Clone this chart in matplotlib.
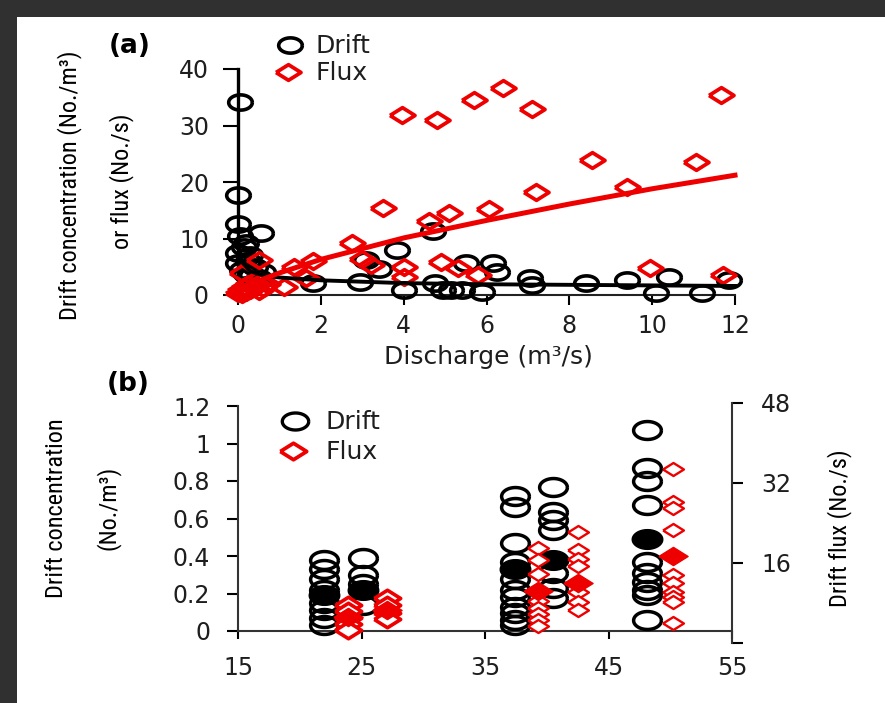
import numpy as np
import matplotlib
matplotlib.use("Agg")
import matplotlib.pyplot as plt
from matplotlib.path import Path
from matplotlib.lines import Line2D
from matplotlib.patches import Rectangle
from matplotlib import font_manager

# ---- panel (a): discharge vs drift concentration / flux ----
drift_q = [0.05, 0.0, 0.0, 0.55, 0.2, 0.0, 0.0, 0.3, 0.15, 0.4, 0.1, 0.6, 0.25, 0.35,
           0.5, 0.05, 0.2, 1.8, 2.95, 3.1, 3.4, 3.85, 4.0, 4.7, 4.75, 4.95, 5.15, 5.4,
           5.5, 5.9, 6.15, 6.25, 7.05, 7.1, 8.4, 9.4, 10.1, 10.4, 11.2, 11.85]
drift_c = [34.2, 17.7, 12.6, 11.0, 9.2, 7.4, 5.7, 7.0, 8.5, 5.0, 4.5, 4.0, 6.0, 3.5,
           3.0, 10.5, 3.8, 2.1, 2.3, 6.2, 4.6, 7.9, 0.9, 11.3, 2.1, 0.9, 0.9, 0.9,
           5.7, 0.5, 5.7, 4.1, 3.0, 1.8, 2.1, 2.7, 0.4, 3.2, 0.4, 2.7]

flux_q = [0.0, 0.05, 0.1, 0.15, 0.2, 0.25, 0.3, 0.4, 0.5, 0.55, 0.6, 0.7, 0.1, 0.5,
          1.1, 1.35, 1.65, 1.8, 2.75, 3.0, 3.2, 3.5, 3.95, 4.0, 4.0, 4.6, 4.8, 4.9,
          5.1, 5.3, 5.7, 5.8, 6.05, 6.4, 7.1, 7.2, 8.55, 9.4, 9.95, 11.05, 11.65, 11.7]
flux_f = [0.3, 0.9, 0.2, 1.4, 0.6, 1.9, 0.9, 1.6, 0.7, 2.3, 1.2, 1.9, 3.9, 6.2,
          1.4, 5.0, 3.0, 6.0, 9.2, 6.3, 5.3, 15.4, 31.9, 4.9, 3.2, 13.1, 31.0, 5.8,
          14.5, 4.8, 34.5, 3.5, 15.3, 36.7, 32.9, 18.3, 23.9, 19.1, 4.8, 23.5, 35.4, 3.5]

# fitted curves
fit_q = [0.02, 0.1, 0.3, 0.6, 1, 2, 4, 6, 8, 10, 12]
drift_fit = [9.0, 5.8, 4.2, 3.5, 3.1, 2.6, 2.1, 1.9, 1.8, 1.7, 1.6]
flux_fit = [0.3, 0.8, 1.7, 2.8, 3.9, 6.3, 10.1, 13.2, 16.1, 18.8, 21.2]

# ---- panel (b): grouped drift (left axis) and flux (right axis) ----
drift_cols = [22.0, 25.1, 37.4, 40.5, 48.1]
drift_vals = [[0.38, 0.33, 0.28, 0.22, 0.15, 0.11, 0.07, 0.03],
              [0.39, 0.30, 0.25, 0.14],
              [0.72, 0.66, 0.47, 0.37, 0.28, 0.22, 0.18, 0.13, 0.095, 0.06, 0.03],
              [0.77, 0.635, 0.59, 0.54, 0.31, 0.23, 0.175],
              [1.07, 0.87, 0.80, 0.67, 0.37, 0.31, 0.26, 0.22, 0.19, 0.06]]
drift_means = [0.19, 0.22, 0.33, 0.38, 0.49]

flux_cols = [23.9, 27.1, 39.3, 42.5, 50.2]
flux_vals = [[7.6, 6.4, 5.0, 3.8, 2.6],
             [9.0, 7.6, 6.0, 4.8],
             [19.1, 16.6, 13.8, 8.4, 7.0, 5.8, 4.6, 3.4],
             [22.2, 18.6, 16.8, 15.4, 10.2, 8.2, 6.6],
             [34.8, 28.2, 27.0, 22.6, 13.6, 12.0, 10.2, 9.2, 8.2, 4.0]]
flux_means = [5.2, 6.6, 10.4, 12.1, 17.4]

RED = "#ee0000"
TXT = "#1e1e1e"
W, H = 885, 703


def fx(px):
    return px / W


def fy(py):
    return 1 - py / H


def pick_font(names):
    for n in names:
        try:
            font_manager.findfont(n, fallback_to_default=False)
            return n
        except ValueError:
            pass
    return "DejaVu Sans"


narrow = pick_font(["Liberation Sans Narrow", "Roboto Condensed", "DejaVu Sans"])
plt.rcParams["font.family"] = ["DejaVu Sans"]

# source picture is stretched sideways, so markers are flattened
t = np.linspace(0, 2 * np.pi, 61)
ellipse = Path(np.column_stack([1.55 * np.cos(t), np.sin(t)]))
diamond = Path([(-1.6, 0), (0, 1), (1.6, 0), (0, -1), (-1.6, 0)])

fig = plt.figure(figsize=(W / 100, H / 100), dpi=100)
fig.patch.set_facecolor("#303030")
fig.add_artist(Rectangle((fx(17), 0), 1, fy(17), transform=fig.transFigure,
                         facecolor="white", edgecolor="none", zorder=-10))

# ---------------- panel (a) ----------------
axA = fig.add_axes([fx(238), fy(295), (735 - 238) / W, (295 - 69) / H])
axA.set_facecolor("none")
axA.set_xlim(0, 12)
axA.set_ylim(0, 40)
for s in ["top", "right"]:
    axA.spines[s].set_visible(False)
axA.spines["left"].set_linewidth(2.4)
axA.spines["bottom"].set_linewidth(1.5)
axA.spines["bottom"].set_color("#222222")
axA.set_xticks(range(0, 13, 2))
axA.set_yticks(range(0, 41, 10))
axA.tick_params(axis="y", length=11, width=1.5, pad=10, labelsize=17, labelcolor=TXT)
axA.tick_params(axis="x", length=7, width=1.5, pad=7, labelsize=17, labelcolor=TXT)

axA.plot(drift_q, drift_c, ls="none", marker=ellipse, ms=17, mfc="none",
         mec="black", mew=2.6, clip_on=False, zorder=3)
axA.plot(flux_q, flux_f, ls="none", marker=diamond, ms=18, mfc="none",
         mec=RED, mew=2.7, clip_on=False, zorder=4)
axA.plot(fit_q, drift_fit, color="black", lw=2.8, zorder=5, clip_on=False)
axA.plot(fit_q, flux_fit, color=RED, lw=3.6, zorder=6, clip_on=False)

fig.text(fx(130), fy(46), "(a)", fontsize=19, fontweight="bold", ha="center", va="center")
fig.add_artist(Line2D([fx(290)], [fy(45)], marker=ellipse, ms=17, mfc="none",
                      mec="black", mew=2.6, transform=fig.transFigure))
fig.text(fx(316), fy(46), "Drift", fontsize=18, color=TXT, ha="left", va="center")
fig.add_artist(Line2D([fx(288)], [fy(72)], marker=diamond, ms=18, mfc="none",
                      mec=RED, mew=2.7, transform=fig.transFigure))
fig.text(fx(316), fy(73), "Flux", fontsize=18, color=TXT, ha="left", va="center")

fig.text(fx(488), fy(357), "Discharge (m³/s)", fontsize=18, color=TXT,
         ha="center", va="center")
fig.text(fx(70), fy(185), "Drift concentration (No./m³)", family=narrow, fontsize=17.5,
         rotation=90, ha="center", va="center")
fig.text(fx(122), fy(181), "or flux (No./s)", family=narrow, fontsize=17.5,
         rotation=90, ha="center", va="center")

# ---------------- panel (b) ----------------
axB = fig.add_axes([fx(238), fy(643), (732 - 238) / W, (643 - 403) / H])
axB.set_facecolor("none")
axB.set_xlim(15, 55)
axB.set_ylim((631 - 643) / 187.5, (631 - 403) / 187.5)
for s in ["top", "right"]:
    axB.spines[s].set_visible(False)
axB.spines["left"].set_bounds(0, 1.2)
axB.spines["bottom"].set_position(("data", 0))
for s in ["left", "bottom"]:
    axB.spines[s].set_linewidth(1.5)
    axB.spines[s].set_color("#333333")
axB.set_xticks([15, 25, 35, 45, 55])
axB.set_yticks([0, 0.2, 0.4, 0.6, 0.8, 1.0, 1.2])
axB.set_yticklabels(["0", "0.2", "0.4", "0.6", "0.8", "1", "1.2"])
axB.tick_params(axis="y", length=8, width=1.5, pad=12, labelsize=17, labelcolor=TXT)
axB.tick_params(axis="x", length=6, width=1.5, pad=12, labelsize=17, labelcolor=TXT)

for col, vals in zip(drift_cols, drift_vals):
    axB.plot([col] * len(vals), vals, ls="none", marker=ellipse, ms=20, mfc="none",
             mec="black", mew=2.5, clip_on=False, zorder=3)
axB.plot(drift_cols, drift_means, ls="none", marker=ellipse, ms=22, mfc="black",
         mec="black", clip_on=False, zorder=4)

axR = axB.twinx()
axR.set_ylim(0, 48)
for s in ["top", "left", "bottom"]:
    axR.spines[s].set_visible(False)
axR.spines["right"].set_linewidth(1.5)
axR.spines["right"].set_color("#333333")
axR.set_yticks([0, 16, 32, 48])
axR.set_yticklabels(["", "16", "32", "48"])
axR.tick_params(axis="y", length=8, width=1.5, pad=13, labelsize=17, labelcolor=TXT)

for i, (col, vals) in enumerate(zip(flux_cols, flux_vals)):
    # the two low-discharge groups are drawn with heavier diamonds in the source
    big = i < 2
    axR.plot([col] * len(vals), vals, ls="none", marker=diamond, ms=19 if big else 15,
             mfc="white", mec=RED, mew=2.6 if big else 1.7, clip_on=False, zorder=3)
axR.plot(flux_cols, flux_means, ls="none", marker=diamond, ms=21, mfc=RED,
         mec=RED, clip_on=False, zorder=4)

fig.text(fx(128), fy(384), "(b)", fontsize=19, fontweight="bold", ha="center", va="center")
fig.add_artist(Line2D([fx(295)], [fy(421)], marker=ellipse, ms=19, mfc="none",
                      mec="black", mew=2.4, transform=fig.transFigure))
fig.text(fx(326), fy(422), "Drift", fontsize=18, color=TXT, ha="left", va="center")
fig.add_artist(Line2D([fx(293)], [fy(451)], marker=diamond, ms=19, mfc="white",
                      mec=RED, mew=2.7, transform=fig.transFigure))
fig.text(fx(326), fy(452), "Flux", fontsize=18, color=TXT, ha="left", va="center")

fig.text(fx(57), fy(508), "Drift concentration", family=narrow, fontsize=17.5,
         rotation=90, ha="center", va="center")
fig.text(fx(108), fy(508), "(No./m³)", family=narrow, fontsize=17.5,
         rotation=90, ha="center", va="center")
fig.text(fx(840), fy(528), "Drift flux (No./s)", family=narrow, fontsize=17.5,
         rotation=90, ha="center", va="center")

fig.savefig("out.png", dpi=100, facecolor=fig.get_facecolor())
